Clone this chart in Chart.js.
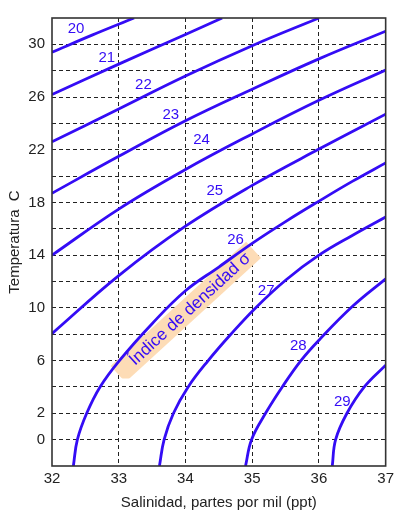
<!DOCTYPE html>
<html>
<head>
<meta charset="utf-8">
<script src="https://cdn.jsdelivr.net/npm/chart.js@4"></script>
<style>
  html, body { margin: 0; padding: 0; background: #fff; }
</style>
</head>
<body>
<canvas id="chart" width="398" height="516"></canvas>
<script>
// salinity (ppt) / temperature (C) pairs
const sigmaLevels = [20, 21, 22, 23, 24, 25, 26, 27, 28, 29];

const s20 = [32, 32.6, 33.23];
const t20 = [29.4, 30.7, 32.0];
const s21 = [32, 33, 34, 34.55];
const t21 = [26.2, 28.5, 30.75, 32.0];
const s22 = [32, 33, 34, 35, 36];
const t22 = [22.6, 25.1, 27.6, 29.9, 32.0];
const s23 = [32, 33, 34, 35, 36, 37];
const t23 = [18.7, 21.5, 24.2, 26.6, 28.9, 31.0];
const s24 = [32, 33, 34, 35, 36, 37];
const t24 = [14.0, 17.5, 20.5, 23.2, 25.75, 28.05];
const s25 = [32, 33, 34, 35, 36, 37];
const t25 = [8.05, 12.45, 16.2, 19.3, 22.05, 24.7];
const s26 = [32.32, 32.38, 32.52, 32.72, 33.01, 33.5, 34, 34.5, 35, 35.5, 36, 36.5, 37];
const t26 = [-2, 0, 2, 4, 6, 8.8, 11.3, 13.1, 14.9, 16.55, 18.1, 19.6, 21.0];
const s27 = [33.61, 33.68, 33.82, 34.04, 34.34, 34.68, 35.05, 35.5, 36, 36.5, 37];
const t27 = [-2, 0, 2, 4, 6, 8, 10, 12.1, 14.0, 15.5, 16.9];
const s28 = [34.9, 34.99, 35.2, 35.45, 35.73, 36.0, 36.5, 37];
const t28 = [-2, 0, 2, 4, 6, 7.55, 10.1, 12.2];
const s29 = [36.2, 36.25, 36.42, 36.68, 37];
const t29 = [-2, 0, 2, 4, 5.65];

const curveS = [s20, s21, s22, s23, s24, s25, s26, s27, s28, s29];
const curveT = [t20, t21, t22, t23, t24, t25, t26, t27, t28, t29];

// where each sigma number is written (salinity, temperature)
const labelS = [32.36, 32.82, 33.37, 33.78, 34.24, 34.44, 34.75, 35.21, 35.69, 36.35];
const labelT = [31.15, 29.0, 26.96, 24.68, 22.77, 18.89, 15.16, 11.3, 7.08, 2.84];

const shownTemps = [0, 2, 6, 10, 14, 18, 22, 26, 30];
const bandText = 'Índice de densidad σ';

const blue = 'rgb(52,12,245)';
const font = '"Liberation Sans", Arial, sans-serif';

const datasets = curveS.map((s, i) => ({
  label: 'sigma ' + sigmaLevels[i],
  data: s.map((v, j) => ({ x: v, y: curveT[i][j] })),
  borderColor: blue,
  borderWidth: 2.8,
  pointRadius: 0,
  fill: false,
  tension: 0.4
}));

const extras = {
  id: 'extras',
  beforeDatasetsDraw(chart) {
    const { ctx, chartArea: a, scales: { x, y } } = chart;
    const cx = x.getPixelForValue(34.06), cy = y.getPixelForValue(9.95);
    ctx.save();
    ctx.beginPath();
    ctx.rect(a.left, a.top, a.width, y.getPixelForValue(4.65) - a.top);
    ctx.clip();
    ctx.translate(cx, cy);
    ctx.rotate(-42.5 * Math.PI / 180);
    ctx.font = '17px ' + font;
    const w = ctx.measureText(bandText).width;
    ctx.fillStyle = '#fddcb6';
    ctx.fillRect(-w / 2 - 18, -11, w + 26, 22);
    ctx.fillStyle = blue;
    ctx.textAlign = 'center';
    ctx.textBaseline = 'middle';
    ctx.fillText(bandText, 0, 1);
    ctx.restore();
  },
  afterDatasetsDraw(chart) {
    const { ctx, chartArea: a, scales: { x, y } } = chart;
    ctx.save();
    ctx.font = '15px ' + font;
    ctx.fillStyle = blue;
    ctx.textAlign = 'center';
    ctx.textBaseline = 'middle';
    sigmaLevels.forEach((lv, i) => {
      ctx.fillText(String(lv), x.getPixelForValue(labelS[i]), y.getPixelForValue(labelT[i]));
    });
    ctx.setLineDash([]);
    ctx.lineWidth = 1.6;
    ctx.strokeStyle = '#333';
    ctx.strokeRect(a.left, a.top, a.width, a.height);
    ctx.restore();
  }
};

new Chart(document.getElementById('chart'), {
  type: 'line',
  data: { datasets },
  options: {
    responsive: false,
    animation: false,
    layout: { padding: { left: 0, right: 12, top: 18, bottom: 0 } },
    plugins: { legend: { display: false }, tooltip: { enabled: false } },
    scales: {
      x: {
        type: 'linear',
        min: 32, max: 37,
        ticks: { stepSize: 1, padding: 4, color: '#222', font: { size: 15, family: font } },
        grid: {
          drawTicks: false,
          lineWidth: 1,
          color: c => (c.tick && (c.tick.value === 32 || c.tick.value === 37)) ? 'rgba(0,0,0,0)' : '#222'
        },
        border: { display: false, dash: [4, 3] },
        title: { display: true, text: 'Salinidad, partes por mil (ppt)', color: '#222', padding: { top: 4, bottom: 4 }, font: { size: 15, family: font } },
        afterFit: s => { s.height = 50; }
      },
      y: {
        type: 'linear',
        min: -2, max: 32,
        ticks: {
          stepSize: 2, padding: 7, color: '#222', autoSkip: false,
          font: { size: 15, family: font },
          callback: v => shownTemps.includes(v) ? v : ''
        },
        grid: {
          drawTicks: false,
          lineWidth: 1,
          color: c => (c.tick && (c.tick.value === -2 || c.tick.value === 32)) ? 'rgba(0,0,0,0)' : '#222'
        },
        border: { display: false, dash: [4, 3] },
        title: { display: true, text: 'Temperatura  C', color: '#222', padding: { top: 6, bottom: 4 }, font: { size: 15, family: font } },
        afterFit: s => { s.width = 52; }
      }
    }
  },
  plugins: [extras]
});
</script>
</body>
</html>
